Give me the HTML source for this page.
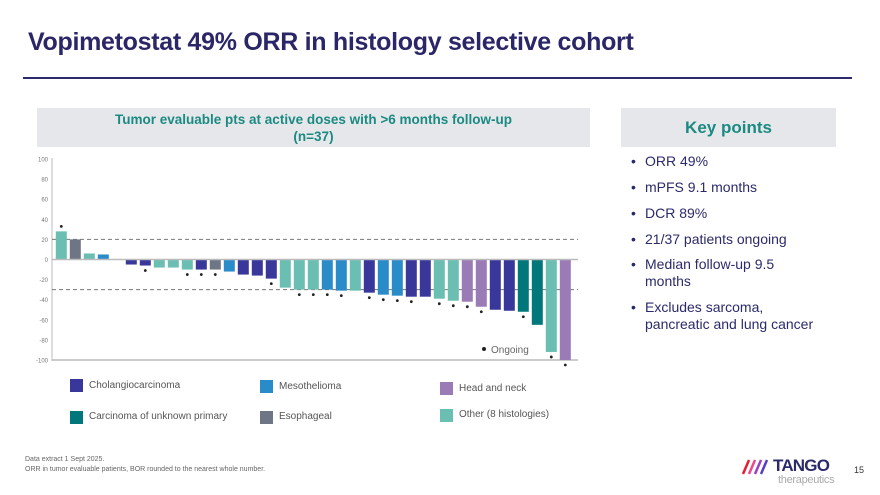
<!DOCTYPE html>
<html><head><meta charset="utf-8">
<style>
body{margin:0;width:880px;height:495px;background:#fff;overflow:hidden;font-family:"Liberation Sans",sans-serif;position:relative}
.abs{position:absolute}
.title{left:28px;top:28px;font-size:25px;font-weight:bold;color:#2a2668;letter-spacing:-0.3px}
.rule{left:23px;top:77px;width:829px;height:2px;background:#2b2a6b}
.hdr{background:#e6e7ea;color:#1b8a82;font-weight:bold;text-align:center}
.kp{left:645px;font-size:14px;color:#2b2a6b;line-height:17px}
.kp:before{content:"•";position:absolute;left:-14px}
.leg{font-size:10px;color:#555}
.sw{width:13px;height:13px}
</style></head><body>
<div class="abs title">Vopimetostat 49% ORR in histology selective cohort</div>
<div class="abs rule"></div>
<div class="abs hdr" style="left:37px;top:108px;width:553px;height:39px;font-size:13.5px;line-height:17px;padding-top:3px;box-sizing:border-box">Tumor evaluable pts at active doses with &gt;6 months follow-up<br>(n=37)</div>
<div class="abs hdr" style="left:621px;top:108px;width:215px;height:39px;font-size:17px;line-height:39px">Key points</div>
<div class="abs kp" style="top:153px">ORR 49%</div>
<div class="abs kp" style="top:179px">mPFS 9.1 months</div>
<div class="abs kp" style="top:205px">DCR 89%</div>
<div class="abs kp" style="top:231px">21/37 patients ongoing</div>
<div class="abs kp" style="top:256px">Median follow-up 9.5<br>months</div>
<div class="abs kp" style="top:299px">Excludes sarcoma,<br>pancreatic and lung cancer</div>

<svg class="abs" style="left:0;top:0" width="600" height="440">
<g id="g"></g>
</svg>

<div class="abs sw" style="left:70px;top:379px;background:#39379a"></div>
<div class="abs leg" style="left:89px;top:380px">Cholangiocarcinoma</div>
<div class="abs sw" style="left:260px;top:380px;background:#2a8bc9"></div>
<div class="abs leg" style="left:279px;top:381px">Mesothelioma</div>
<div class="abs sw" style="left:440px;top:382px;background:#9a7bb5"></div>
<div class="abs leg" style="left:459px;top:383px">Head and neck</div>
<div class="abs sw" style="left:70px;top:411px;background:#00777b"></div>
<div class="abs leg" style="left:89px;top:411px">Carcinoma of unknown primary</div>
<div class="abs sw" style="left:260px;top:411px;background:#6e7585"></div>
<div class="abs leg" style="left:279px;top:411px">Esophageal</div>
<div class="abs sw" style="left:440px;top:409px;background:#6bbfb2"></div>
<div class="abs leg" style="left:459px;top:409px">Other (8 histologies)</div>

<div class="abs" style="left:25px;top:455px;font-size:7px;color:#666;line-height:10px">Data extract 1 Sept 2025.<br>ORR in tumor evaluable patients, BOR rounded to the nearest whole number.</div>
<div class="abs" style="left:740px;top:456px;width:100px;height:32px">
<svg width="30" height="18" style="position:absolute;left:0;top:2px"><g stroke-width="2.5"><line x1="3" y1="16" x2="9" y2="2" stroke="#e4202e"/><line x1="9" y1="16" x2="15" y2="2" stroke="#e84a8a"/><line x1="15" y1="16" x2="21" y2="2" stroke="#9b3fc0"/><line x1="21" y1="16" x2="27" y2="2" stroke="#5a3fc0"/></g></svg>
<div style="position:absolute;left:33px;top:0;font-size:17px;font-weight:bold;color:#2b2a6b;letter-spacing:-0.8px">TANGO</div>
<div style="position:absolute;left:38px;top:18px;font-size:11px;color:#aaa;letter-spacing:-0.3px">therapeutics</div>
</div>
<div class="abs" style="left:854px;top:465px;font-size:9px;color:#333">15</div>

<script>
const values=[28,20,6,5,0,-5,-6,-8,-8,-10,-10,-10,-12,-15,-16,-19,-28,-30,-30,-30,-31,-31,-33,-35,-36,-37,-37,-39,-41,-42,-47,-50,-51,-52,-65,-92,-100];
const types=["O","E","O","M","O","C","C","O","O","O","C","E","M","C","C","C","O","O","O","M","M","O","C","M","M","C","C","O","O","H","H","C","C","U","U","O","H"];
const ongoing=[1,0,0,0,0,0,1,0,0,1,1,1,0,0,0,1,0,1,1,1,1,0,1,1,1,1,0,1,1,1,1,0,0,1,0,1,1];
const yTicks=[100,80,60,40,20,0,-20,-40,-60,-80,-100];
const refLines=[20,-30];
const colors={C:"#39379a",M:"#2a8bc9",H:"#9a7bb5",U:"#00777b",E:"#6e7585",O:"#6bbfb2"};
const NS="http://www.w3.org/2000/svg",g=document.getElementById('g');
const y=v=>259.5-v*1.005;
const x=i=>61.3+i*14;
function mk(t,a){const e=document.createElementNS(NS,t);for(const k in a)e.setAttribute(k,a[k]);g.appendChild(e);return e;}
yTicks.forEach(t=>{const e=mk('text',{x:48,y:y(t)+2.5,'text-anchor':'end','font-size':6,fill:'#777'});e.textContent=t;

});
let e=mk('line',{x1:52,y1:158,x2:52,y2:361,stroke:'#bbb','stroke-width':1});


e=mk('line',{x1:52,y1:y(-100),x2:578,y2:y(-100),stroke:'#bbb','stroke-width':1.5});


refLines.forEach(r=>{const l=mk('line',{x1:52,y1:y(r),x2:578,y2:y(r),stroke:'#777','stroke-width':1,'stroke-dasharray':'4,3'});

});
values.forEach((v,i)=>{
 const y0=y(0),y1=y(v);
 const b=mk('rect',{x:x(i)-5.5,y:Math.min(y0,y1),width:11,height:Math.abs(y1-y0),fill:colors[types[i]]});
 
 
 if(ongoing[i]){const d=mk('circle',{cx:x(i),cy:v>0?y1-5:y1+5,r:1.4,fill:'#222'});
 
 }
});
e=mk('line',{x1:52,y1:y(0),x2:578,y2:y(0),stroke:'#bbb','stroke-width':1.5});


e=mk('circle',{cx:484,cy:349,r:2,fill:'#222'});


e=mk('text',{x:491,y:353,'font-size':10,fill:'#666'});e.textContent='Ongoing';


</script>
</body></html>
